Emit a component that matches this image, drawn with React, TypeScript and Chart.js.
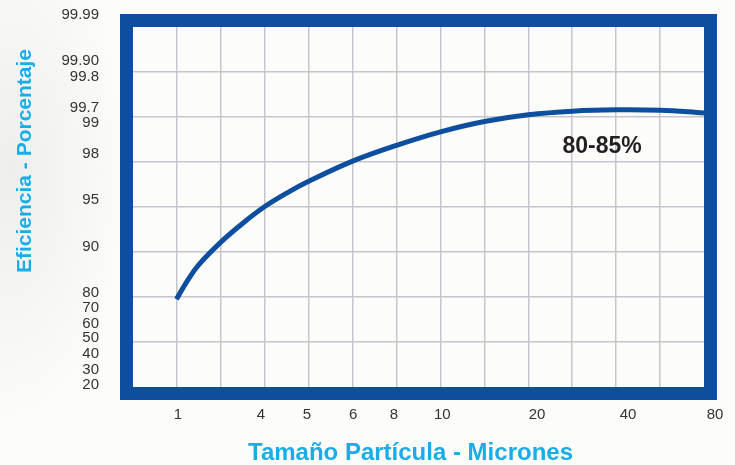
import { useEffect, useRef } from "react";
import { Chart, registerables } from "chart.js";

Chart.register(...registerables);

// Grid: 13 equal columns and 8 equal rows inside the frame (axis units = grid cells)
const gridColumns = [1, 2, 3, 4, 5, 6, 7, 8, 9, 10, 11, 12];
const gridRows = [1, 2, 3, 4, 5, 6, 7];

// X tick labels (microns) and the grid column where each label sits
const xTickLabels = ["1", "4", "5", "6", "8", "10", "20", "40", "80"];
const xTickColumns = [1.02, 2.91, 3.96, 5.01, 5.94, 7.04, 9.2, 11.27, 13.25];

// Y tick labels (percent) and the grid row where each label sits
const yTickLabels = ["99.99", "99.90", "99.8", "99.7", "99", "98", "95", "90", "80", "70", "60", "50", "40", "30", "20"];
const yTickRows = [8.27, 7.24, 6.89, 6.2, 5.87, 5.18, 4.16, 3.11, 2.09, 1.76, 1.4, 1.09, 0.73, 0.38, 0.04];

// Efficiency curve, in grid units
const curveColumns = [0.99, 1.25, 1.5, 2.0, 2.5, 3.0, 3.5, 4.0, 5.0, 6.0, 7.0, 8.0, 9.0, 10.0, 11.0, 12.0, 13.0];
const curveRows = [1.95, 2.38, 2.72, 3.22, 3.64, 4.01, 4.31, 4.57, 5.02, 5.37, 5.67, 5.9, 6.05, 6.13, 6.16, 6.15, 6.09];

const annotationText = "80-85%";
const annotationColumn = 10.68;
const annotationRow = 5.33;

const xTitle = "Tamaño Partícula - Micrones";
const yTitle = "Eficiencia - Porcentaje";

const FRAME = "#0d4e9f";
const TITLE = "#16ade9";
const FONT = "'Liberation Sans', Arial, Helvetica, sans-serif";

export default function App() {
  const ref = useRef<HTMLCanvasElement | null>(null);

  useEffect(() => {
    if (!ref.current) return;
    const xMin = -0.296, xMax = 13.296;
    const yMin = -0.289, yMax = 8.289;

    const noPad = (s: any) => {
      s.paddingTop = 0;
      s.paddingBottom = 0;
      s.paddingLeft = 0;
      s.paddingRight = 0;
    };

    const decor = {
      id: "decor",
      afterDatasetsDraw(chart: any) {
        const { ctx, chartArea } = chart;
        const { left, top, right, bottom } = chartArea;
        ctx.save();
        ctx.strokeStyle = FRAME;
        ctx.lineWidth = 13;
        ctx.strokeRect(left + 6.5, top + 6.5, right - left - 13, bottom - top - 13);
        ctx.restore();
      },
      afterDraw(chart: any) {
        const { ctx, chartArea, scales } = chart;
        ctx.save();
        ctx.fillStyle = "#231f20";
        ctx.font = `bold 23px ${FONT}`;
        ctx.textAlign = "center";
        ctx.textBaseline = "middle";
        ctx.fillText(annotationText, scales.x.getPixelForValue(annotationColumn), scales.y.getPixelForValue(annotationRow));

        ctx.fillStyle = TITLE;
        ctx.font = `bold 24px ${FONT}`;
        ctx.fillText(xTitle, (chartArea.left + chartArea.right) / 2 - 8, chartArea.bottom + 53);
        ctx.font = `bold 21px ${FONT}`;
        ctx.translate(25, chartArea.top + 147);
        ctx.rotate(-Math.PI / 2);
        ctx.fillText(yTitle, 0, 0);
        ctx.restore();
      },
    };

    const chart = new Chart(ref.current, {
      type: "line",
      data: {
        datasets: [
          {
            data: curveColumns.map((x, i) => ({ x, y: curveRows[i] })),
            borderColor: FRAME,
            borderWidth: 5,
            pointRadius: 0,
            tension: 0.4,
            fill: false,
            xAxisID: "x",
            yAxisID: "y",
          },
        ],
      },
      options: {
        animation: false,
        responsive: false,
        layout: { padding: { top: 14, right: 18, left: 0, bottom: 0 } },
        plugins: { legend: { display: false }, tooltip: { enabled: false } },
        scales: {
          x: {
            type: "linear",
            position: "bottom",
            weight: 0,
            min: xMin,
            max: xMax,
            afterBuildTicks: (s: any) => {
              s.ticks = gridColumns.map((v) => ({ value: v }));
            },
            ticks: { display: false },
            grid: { color: "#c5c6cb", lineWidth: 1.5, drawTicks: false },
            border: { display: false },
            afterFit: (s: any) => {
              s.height = 0;
              noPad(s);
            },
          },
          xl: {
            type: "linear",
            position: "bottom",
            weight: 1,
            min: xMin,
            max: xMax,
            afterBuildTicks: (s: any) => {
              s.ticks = xTickColumns.map((v) => ({ value: v }));
            },
            ticks: {
              autoSkip: false,
              maxRotation: 0,
              padding: 6,
              color: "#333333",
              font: { family: FONT, size: 15 },
              callback: (_v: any, i: number) => xTickLabels[i],
            },
            grid: { display: false, drawTicks: false },
            border: { display: false },
            afterFit: (s: any) => {
              s.height = 65;
              noPad(s);
            },
          },
          y: {
            type: "linear",
            position: "left",
            weight: 0,
            min: yMin,
            max: yMax,
            afterBuildTicks: (s: any) => {
              s.ticks = gridRows.map((v) => ({ value: v }));
            },
            ticks: { display: false },
            grid: { color: "#c5c6cb", lineWidth: 1.5, drawTicks: false },
            border: { display: false },
            afterFit: (s: any) => {
              s.width = 0;
              noPad(s);
            },
          },
          yl: {
            type: "linear",
            position: "left",
            weight: 1,
            min: yMin,
            max: yMax,
            afterBuildTicks: (s: any) => {
              s.ticks = yTickRows.map((v) => ({ value: v }));
            },
            ticks: {
              autoSkip: false,
              padding: 21,
              color: "#333333",
              font: { family: FONT, size: 15 },
              callback: (_v: any, i: number) => yTickLabels[i],
            },
            grid: { display: false, drawTicks: false },
            border: { display: false },
            afterFit: (s: any) => {
              s.width = 120;
              noPad(s);
            },
          },
        },
      },
      plugins: [decor],
    } as any);
    return () => chart.destroy();
  }, []);

  return (
    <div
      style={{
        position: "fixed",
        left: 0,
        top: 0,
        width: 735,
        height: 465,
        background: "radial-gradient(ellipse 120px 260px at 10px 170px, #eeeeec 0%, #fcfcfa 100%)",
        backgroundColor: "#fcfcfa",
      }}
    >
      <canvas ref={ref} width={735} height={465} style={{ width: 735, height: 465, display: "block" }} />
    </div>
  );
}
